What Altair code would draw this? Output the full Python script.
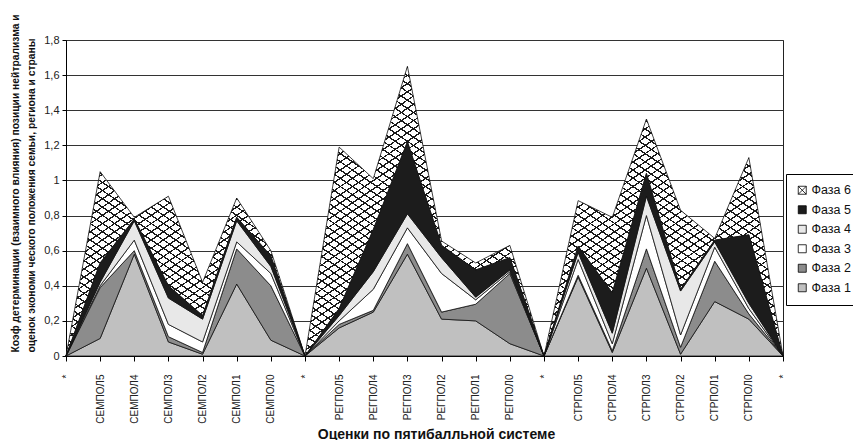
import math
import altair as alt
import pandas as pd

# ---------------- data ----------------
categories = ["*", "СЕМПОЛ5", "СЕМПОЛ4", "СЕМПОЛ3", "СЕМПОЛ2", "СЕМПОЛ1", "СЕМПОЛ0",
              "* ", "РЕГПОЛ5", "РЕГПОЛ4", "РЕГПОЛ3", "РЕГПОЛ2", "РЕГПОЛ1", "РЕГПОЛ0",
              "*  ", "СТРПОЛ5", "СТРПОЛ4", "СТРПОЛ3", "СТРПОЛ2", "СТРПОЛ1", "СТРПОЛ0", "*   "]
phases = ["Фаза 1", "Фаза 2", "Фаза 3", "Фаза 4", "Фаза 5", "Фаза 6"]

phase1 = [0, 0.10, 0.58, 0.08, 0.01, 0.41, 0.09, 0, 0.16, 0.25, 0.58, 0.21, 0.20, 0.07,
          0, 0.45, 0.02, 0.50, 0.01, 0.31, 0.21, 0]
phase2 = [0, 0.29, 0.02, 0.03, 0.01, 0.20, 0.31, 0, 0.02, 0.01, 0.06, 0.04, 0.095, 0.40,
          0, 0.01, 0.01, 0.11, 0.04, 0.23, 0.03, 0]
phase3 = [0, 0.01, 0.06, 0.07, 0.06, 0.04, 0.07, 0, 0.02, 0.12, 0.09, 0.22, 0.025, 0.01,
          0, 0.09, 0.04, 0.19, 0.07, 0.08, 0.03, 0]
phase4 = [0, 0.02, 0.11, 0.15, 0.13, 0.12, 0.04, 0, 0.03, 0.10, 0.08, 0.09, 0.015, 0.01,
          0, 0.04, 0.06, 0.11, 0.25, 0.03, 0.03, 0]
phase5 = [0, 0.11, 0.01, 0.07, 0.02, 0.02, 0.06, 0, 0.04, 0.24, 0.41, 0.07, 0.155, 0.07,
          0, 0.035, 0.23, 0.13, 0.01, 0.01, 0.39, 0]
phase6 = [0, 0.52, 0.01, 0.51, 0.19, 0.11, 0.03, 0, 0.92, 0.29, 0.43, 0.025, 0.04, 0.07,
          0, 0.26, 0.43, 0.31, 0.45, 0.01, 0.44, 0]

y_ticks = [0, 0.2, 0.4, 0.6, 0.8, 1.0, 1.2, 1.4, 1.6, 1.8]
y_title = ["Коэф детерминации (взаимного влияния) позиции  нейтрализма и",
           "оценок экономи ческого положения семьи, региона и страны"]
x_title = "Оценки по пятибалльной системе"

series = [phase1, phase2, phase3, phase4, phase5, phase6]
rows = []
for p_i, (name, vals) in enumerate(zip(phases, series)):
    for cat, v in zip(categories, vals):
        rows.append({"cat": cat, "phase": name, "order": p_i + 1, "value": v})
df = pd.DataFrame(rows)

# ---------------- styling ----------------
W, H = 717, 316
YMAX = 1.8
FONT = "Liberation Sans"
INK = "#111111"

fills = ["#c0c0c0", "#8c8c8c", "#ffffff", "#e8e8e8", "#1c1c1c"]

# cross-hatch for phase 6 built from two striped linear gradients
totals = [sum(col) for col in zip(*series)]
area_h = H * max(totals) / YMAX
slope = math.tan(math.radians(34))
spacing = 6.8
m = (slope * W + area_h) / (slope ** 2 * W ** 2 + area_h ** 2)
ga, gb = slope * W * m, area_h * m
span = (slope * W + area_h) / math.sqrt(slope ** 2 + 1)
n_str = int(round(span / spacing))
lw = 1.3 / span


def striped(x1, y1, x2, y2, bg, fg):
    stops = []
    for i in range(n_str):
        a = i / n_str
        b = a + lw
        c = (i + 1) / n_str
        stops += [{"offset": round(a, 6), "color": fg},
                  {"offset": round(b, 6), "color": fg},
                  {"offset": round(b, 6), "color": bg},
                  {"offset": round(c, 6), "color": bg}]
    return {"gradient": "linear", "x1": x1, "y1": y1, "x2": x2, "y2": y2, "stops": stops}


grad_a = striped(0, 0, ga, gb, "#ffffff", "#1a1a1a")
grad_b = striped(0, 1, ga, 1 - gb, "rgba(255,255,255,0)", "#1a1a1a")

x_enc = alt.X(
    "cat:N", sort=categories,
    scale=alt.Scale(type="point", padding=0),
    axis=alt.Axis(title=x_title, labelAngle=-90, labelExpr="trim(datum.label)",
                  labelFontSize=10, labelPadding=13, tickSize=5, labelColor="#222",
                  titleFontSize=14, titleFontWeight="bold", titleX=370, titleY=71,
                  domainColor="#000", tickColor="#000", grid=False),
)
y_enc = alt.Y(
    "y1:Q",
    scale=alt.Scale(domain=[0, YMAX], nice=False, zero=True),
    axis=alt.Axis(values=y_ticks, labelExpr="replace(format(datum.value, '.1~f'), '.', ',')",
                  labelFontSize=11, labelPadding=3, tickSize=4, labelColor="#222",
                  grid=True, gridColor="#333333", gridWidth=1,
                  domainColor="#000", tickColor="#000",
                  title=y_title, titleFontSize=10.3, titleFontWeight="bold",
                  titleAngle=-90, titleX=-56, titleY=312, titleAlign="left",
                  titleBaseline="top", titleLineHeight=16),
)
y2_enc = alt.Y2("y0:Q")

base = alt.Chart(df).transform_stack(
    stack="value", groupby=["cat"], as_=["y0", "y1"],
    sort=[alt.SortField("order", order="ascending")],
)

lower = base.transform_filter(
    alt.FieldOneOfPredicate(field="phase", oneOf=phases[:5])
).mark_area(stroke=INK, strokeWidth=0.8, interpolate="linear").encode(
    x=x_enc, y=y_enc, y2=y2_enc,
    color=alt.Color("phase:N", scale=alt.Scale(domain=phases[:5], range=fills), legend=None),
)

top_only = base.transform_filter(alt.datum.phase == "Фаза 6")
hatch_bg = top_only.mark_area(fill=grad_a, strokeWidth=0).encode(x=x_enc, y=y_enc, y2=y2_enc)
hatch_fg = top_only.mark_area(fill=grad_b, stroke=INK, strokeWidth=0.8).encode(
    x=x_enc, y=y_enc, y2=y2_enc)

legend_order = ["Фаза 6", "Фаза 5", "Фаза 4", "Фаза 3", "Фаза 2", "Фаза 1"]
legend_fills = ["#ffffff", "#1c1c1c", "#e8e8e8", "#ffffff", "#8c8c8c", "#c0c0c0"]
box_x = "M-1,-1H1V1H-1ZM-1,-1L1,1M1,-1L-1,1"
legend_shapes = [box_x, "square", "square", "square", "square", "square"]
leg = alt.Legend(title=None, orient="none", legendX=720, legendY=134,
                 strokeColor="#000", fillColor="#ffffff", padding=10,
                 labelFont=FONT, labelFontSize=12.5, labelColor="#111",
                 symbolSize=64, symbolStrokeWidth=0.8,
                 rowPadding=6.5, labelOffset=3)

legend_layer = base.transform_filter("false").mark_point(
    filled=True, stroke="#000", strokeWidth=0.8, opacity=1
).encode(
    x=x_enc, y=y_enc,
    fill=alt.Fill("phase:N", scale=alt.Scale(domain=legend_order, range=legend_fills), legend=leg),
    shape=alt.Shape("phase:N", scale=alt.Scale(domain=legend_order, range=legend_shapes), legend=leg),
)

chart = alt.layer(hatch_bg, hatch_fg, lower, legend_layer).properties(
    width=W, height=H,
    padding={"left": 58, "top": 32, "right": 70, "bottom": 84},
    autosize=alt.AutoSizeParams(type="none"),
    background="white",
).configure_view(stroke="#222", strokeWidth=1).configure_axis(
    labelFont=FONT, titleFont=FONT, titleColor="#111"
).configure_legend(labelFont=FONT)

chart.save("out.html", embed_options={"renderer": "svg", "actions": False})
